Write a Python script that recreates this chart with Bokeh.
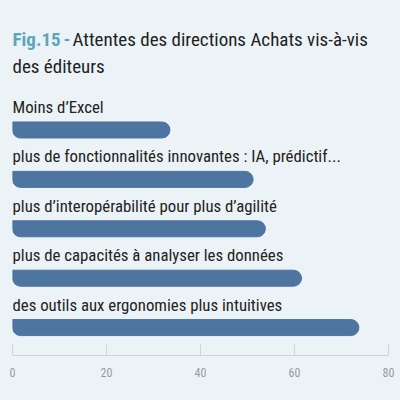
from bokeh.plotting import figure
from bokeh.models import Range1d, ColumnDataSource, FixedTicker, GlobalInlineStyleSheet
from bokeh.core.properties import value
from bokeh.embed import file_html
from bokeh.resources import INLINE

categories = [
    "Moins d\u2019Excel",
    "plus de fonctionnalités innovantes : IA, prédictif...",
    "plus d\u2019interopérabilité pour plus d\u2019agilité",
    "plus de capacités à analyser les données",
    "des outils aux ergonomies plus intuitives",
]
values = [33.5, 51.2, 53.8, 61.5, 73.7]
ticks = [0, 20, 40, 60, 80]
title_fig = "Fig.15"
title_dash = "-"
title_line1 = "Attentes des directions Achats vis-à-vis"
title_line2 = "des éditeurs"

BG = "#ecf3f6"
BAR = "#4e74a0"
TEAL = "#5fa5ba"
DARK = "#222222"
FONT = "Roboto Condensed"

idx = list(range(len(categories)))
src = ColumnDataSource(dict(y=idx, v=values, label=categories))

p = figure(width=400, height=400, output_backend="svg", toolbar_location=None,
           x_range=Range1d(0, 80), y_range=Range1d(4.565, -2.621),
           min_border_left=12, min_border_right=12, min_border_top=0, min_border_bottom=45)
p.background_fill_color = BG
p.border_fill_color = BG
p.outline_line_color = None
p.grid.visible = False
p.yaxis.visible = False

p.hbar(y="y", left=0, right="v", height=0.324, source=src, color=BAR,
       border_radius=(0, 8, 8, 8))
p.text(x=0, y="y", text="label", source=src, y_offset=-23, text_baseline="alphabetic",
       text_font=value(FONT), text_font_size="16.8px", text_color=DARK)

top = p.y_range.end
p.text(x=[0], y=[top], text=[title_fig], y_offset=39, text_baseline="alphabetic",
       text_font=value(FONT), text_font_size="19px", text_font_style="bold", text_color=TEAL)
p.text(x=[0], y=[top], text=[title_dash], x_offset=51, y_offset=39, text_baseline="alphabetic",
       text_font=value(FONT), text_font_size="19px", text_font_style="bold", text_color=TEAL)
p.text(x=[0], y=[top], text=[title_line1], x_offset=60, y_offset=39, text_baseline="alphabetic",
       text_font=value(FONT), text_font_size="19px", text_color=DARK)
p.text(x=[0], y=[top], text=[title_line2], y_offset=66, text_baseline="alphabetic",
       text_font=value(FONT), text_font_size="19px", text_color=DARK)

ax = p.xaxis[0]
ax.ticker = FixedTicker(ticks=ticks)
ax.axis_line_color = "#cfd4d6"
ax.major_tick_line_color = "#cfd4d6"
ax.major_tick_in = 11
ax.major_tick_out = 0
ax.minor_tick_line_color = None
ax.major_label_standoff = 12
ax.major_label_text_color = "#9a9a9a"
ax.major_label_text_font = FONT
ax.major_label_text_font_size = "12px"

p.stylesheets = [GlobalInlineStyleSheet(css="html,body{background:#ecf3f6;}")]

open("out.html", "w").write(file_html(p, INLINE))
